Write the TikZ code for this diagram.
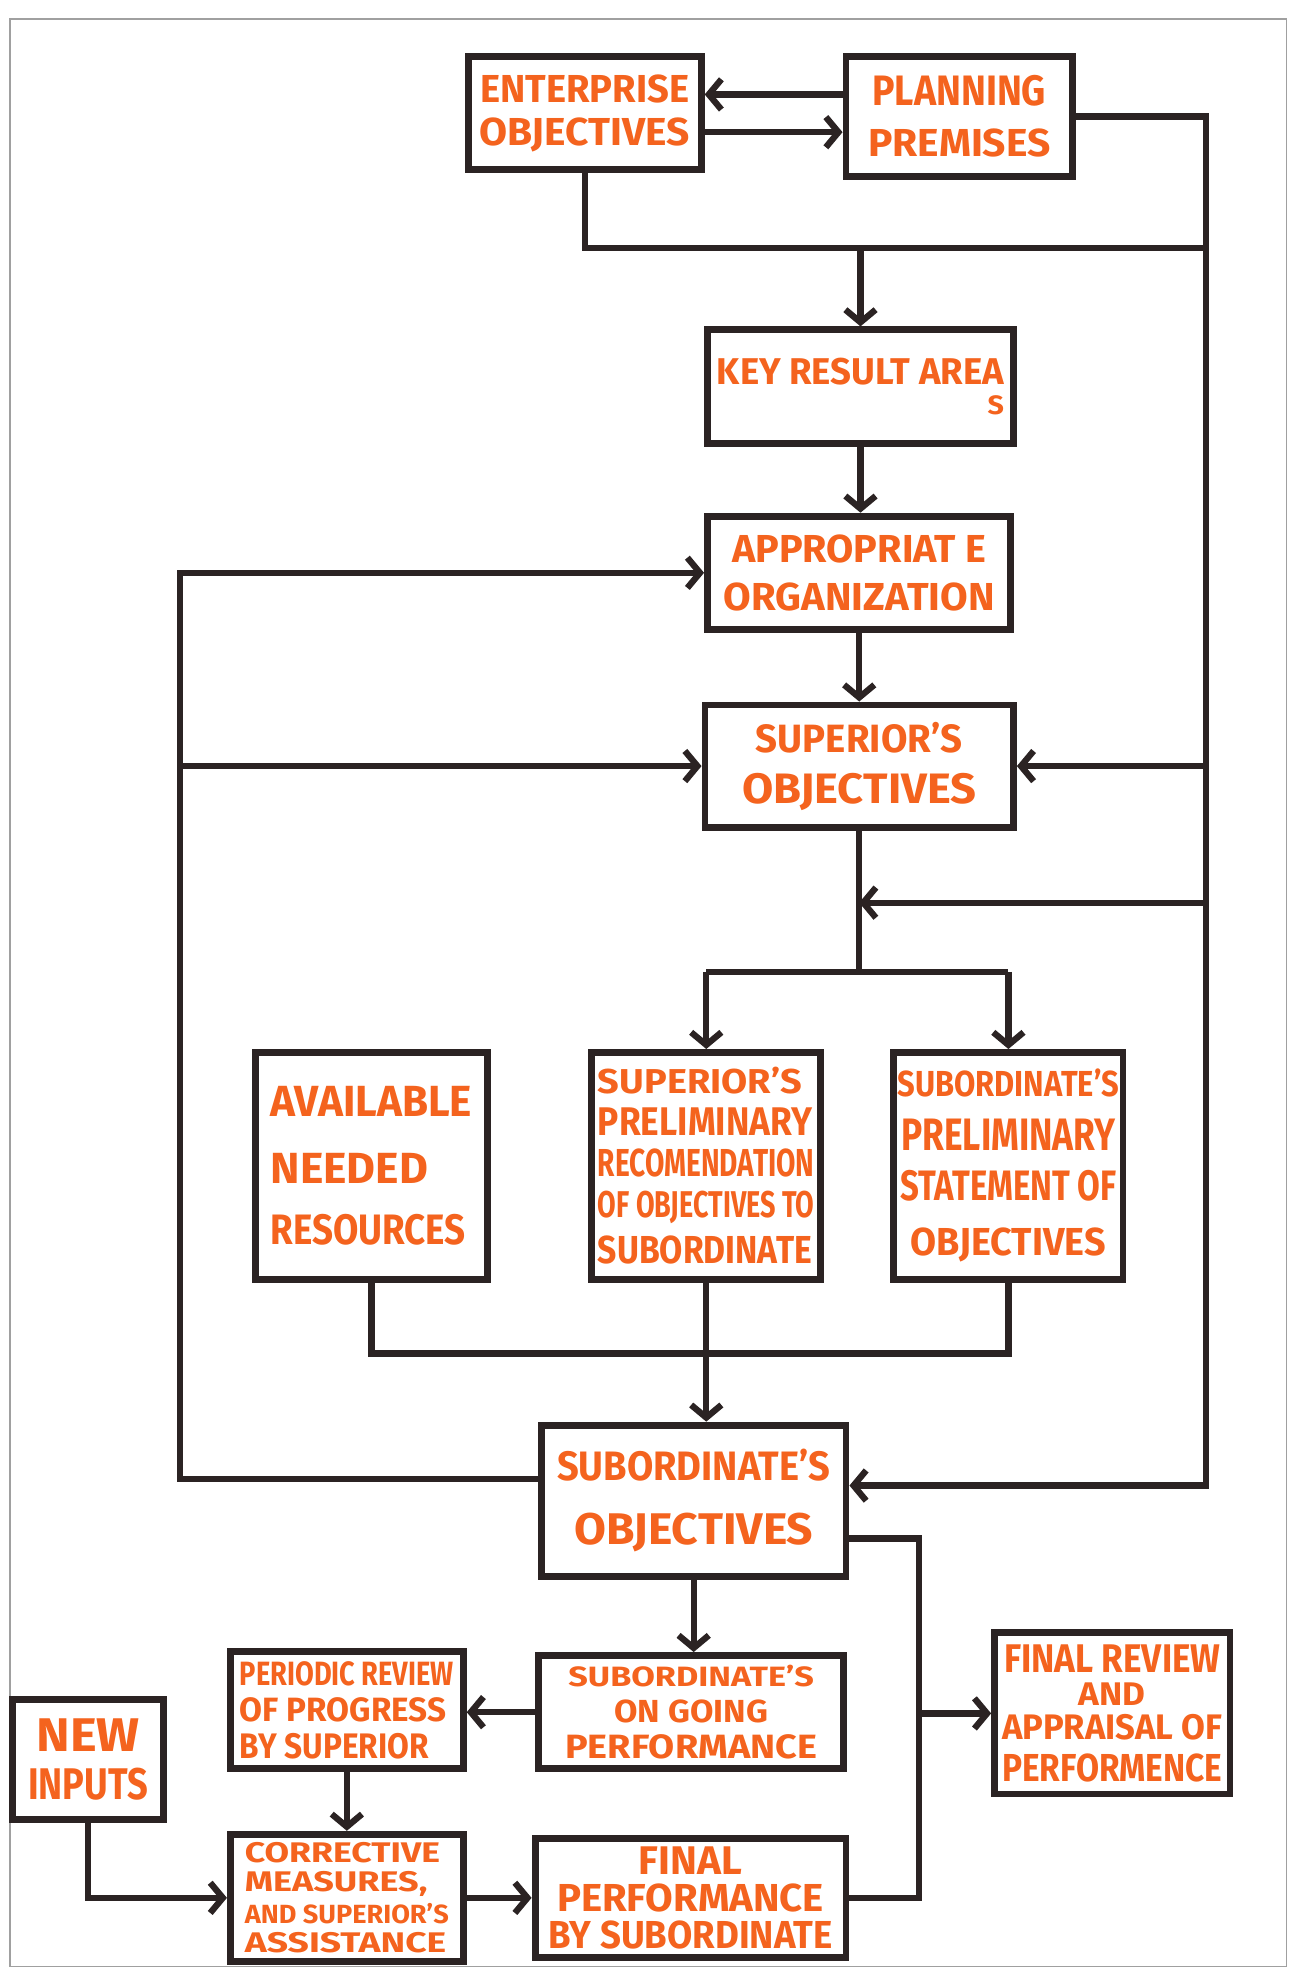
\documentclass[tikz,border=0pt]{standalone}
\usepackage{fontspec}
\usepackage{graphicx}
\setmainfont{Fira Sans}
\usetikzlibrary{arrows.meta}
\definecolor{ink}{HTML}{2B2323}
\definecolor{marker}{HTML}{F4631E}
\definecolor{pageedge}{HTML}{A0A0A0}
% one hand-lettered line: width, cap height, text
\newcommand\hl[3]{\resizebox{#1pt}{#2pt}{\fontsize{20}{24}\selectfont\bfseries #3}}

\begin{document}
\begin{tikzpicture}[x=1pt,y=-1pt,
  box/.style={draw=ink, line width=5.5pt, fill=white, inner sep=0pt, align=center,
    text=marker, font=\fontsize{1}{1}\selectfont},
  size/.style 2 args={minimum width=#1pt, minimum height=#2pt},
  link/.style={draw=ink, line width=5pt},
  arr/.style={link, -{Straight Barb[length=10pt,width=24pt]}}]

\useasboundingbox (0,0) rectangle (1027,1568);
\fill[white] (0,0) rectangle (1027,1568);
\draw[pageedge, line width=1pt] (8,15) rectangle (1022,1562);

% ---- boxes ----
\node[box, size={185}{90}] (ent) at (464.5,90)
  {\hl{166}{22}{ENTERPRISE}\\[11pt]\hl{167}{22}{OBJECTIVES}};
\node[box, size={180}{95}] (plan) at (762,92.5)
  {\hl{138}{24}{PLANNING}\\[17pt]\hl{145}{22}{PREMISES}};
\node[box, size={243}{90}] (kra) at (683.5,307)
  {\hl{228}{21}{KEY RESULT AREA}\\[7pt]\makebox[228pt][r]{\hl{13}{15}{S}}};
\node[box, size={241}{90}] (org) at (682.5,455)
  {\hl{202}{22}{APPROPRIAT E}\\[15pt]\hl{215}{22}{ORGANIZATION}};
\node[box, size={245}{97}] (sup) at (682.5,608.5)
  {\hl{164}{24}{SUPERIOR'S}\\[15pt]\hl{186}{24}{OBJECTIVES}};
\node[box, size={184}{180}, align=left] (res) at (295,926)
  {\hl{160}{24}{AVAILABLE}\\[28pt]\hl{125}{24}{NEEDED}\\[23pt]\hl{155}{24}{RESOURCES}};
\node[box, size={182}{180}, align=left] (rec) at (561,926)
  {\hl{162}{21}{SUPERIOR'S}\\[10pt]\hl{170}{22}{PRELIMINARY}\\[9pt]\hl{172}{22}{RECOMENDATION}\\[10pt]\hl{172}{21}{OF OBJECTIVES TO}\\[9pt]\hl{170}{22}{SUBORDINATE}};
\node[box, size={182}{180}] (stm) at (801,926)
  {\hl{176}{22}{SUBORDINATE'S}\\[16pt]\hl{170}{25}{PRELIMINARY}\\[15pt]\hl{172}{24}{STATEMENT OF}\\[20pt]\hl{155}{22}{OBJECTIVES}};
\node[box, size={242}{120}] (sub) at (551,1192)
  {\hl{217}{25}{SUBORDINATE'S}\\[24pt]\hl{190}{25}{OBJECTIVES}};
\node[box, size={185}{93}, align=left] (per) at (275.5,1358.5)
  {\hl{170}{19}{PERIODIC REVIEW}\\[8pt]\hl{164}{19}{OF PROGRESS}\\[8pt]\hl{150}{20}{BY SUPERIOR}};
\node[box, size={242}{90}] (ong) at (549,1360)
  {\hl{195}{17}{SUBORDINATE'S}\\[9pt]\hl{122}{18}{ON GOING}\\[8pt]\hl{200}{19}{PERFORMANCE}};
\node[box, size={187}{128}] (fin) at (883.5,1361)
  {\hl{172}{22}{FINAL REVIEW}\\[7pt]\hl{53}{18}{AND}\\[6pt]\hl{175}{20}{APPRAISAL OF}\\[10pt]\hl{175}{22}{PERFORMENCE}};
\node[box, size={120}{95}] (new) at (70,1397.5)
  {\hl{82}{26}{NEW}\\[12pt]\hl{95}{25}{INPUTS}};
\node[box, size={185}{101}, align=left] (cor) at (275.5,1507.5)
  {\hl{155}{16}{CORRECTIVE}\\[6pt]\hl{145}{16}{MEASURES,}\\[4pt]\hl{162}{16}{AND SUPERIOR'S}\\[6pt]\hl{160}{16}{ASSISTANCE}};
\node[box, size={247}{95}] (fp) at (548.5,1507.5)
  {\hl{82}{22}{FINAL}\\[6pt]\hl{212}{22}{PERFORMANCE}\\[6pt]\hl{226}{22}{BY SUBORDINATE}};

% ---- bus positions ----
\coordinate (rb) at (958,1180);
\coordinate (jt) at (958,197);
\coordinate (jm) at (682.5,717);
\coordinate (jf) at (682.5,772);
\coordinate (lx) at (143,0);
\coordinate (jb) at (0,1075);
\coordinate (rx) at (730,0);

% ---- connectors ----
\draw[arr] ([yshift=17.5pt]plan.west) -- ([yshift=17.5pt]plan.west -| ent.east);
\draw[arr] ([yshift=-15pt]ent.east) -- ([yshift=-15pt]ent.east -| plan.west);

\draw[arr] (plan.east) -| (rb) -- (rb -| sub.east);
\draw[link] (ent.south) |- (jt);
\draw[arr] (kra.north |- jt) -- (kra.north);
\draw[arr] (kra.south) -- (kra.south |- org.north);
\draw[arr] (org.south) -- (org.south |- sup.north);
\draw[arr] (sup.east -| rb) -- (sup.east);
\draw[arr] (jm -| rb) -- (jm);

\draw[link] (sup.south) -- (jf);
\draw[link] (rec.north |- jf) -- (stm.north |- jf);
\draw[arr] (rec.north |- jf) -- (rec.north);
\draw[arr] (stm.north |- jf) -- (stm.north);

\draw[arr] ([yshift=17pt]sub.west) -| (org.west -| lx) -- (org.west);
\draw[arr] (sup.west -| lx) -- (sup.west);

\draw[link] (res.south) |- (stm.south |- jb) -- (stm.south);
\draw[arr] (rec.south) -- (rec.south |- sub.north);

\draw[arr] (sub.south) -- (sub.south |- ong.north);
\draw[link] ([yshift=-30pt]sub.east) -| (fp.east -| rx) -- (fp.east);
\draw[arr] (fin.west -| rx) -- (fin.west);

\draw[arr] (ong.west) -- (ong.west -| per.east);
\draw[arr] (per.south) -- (per.south |- cor.north);
\draw[arr] (new.south) |- (cor.west);
\draw[arr] (cor.east) -- (cor.east -| fp.west);
\end{tikzpicture}
\end{document}
